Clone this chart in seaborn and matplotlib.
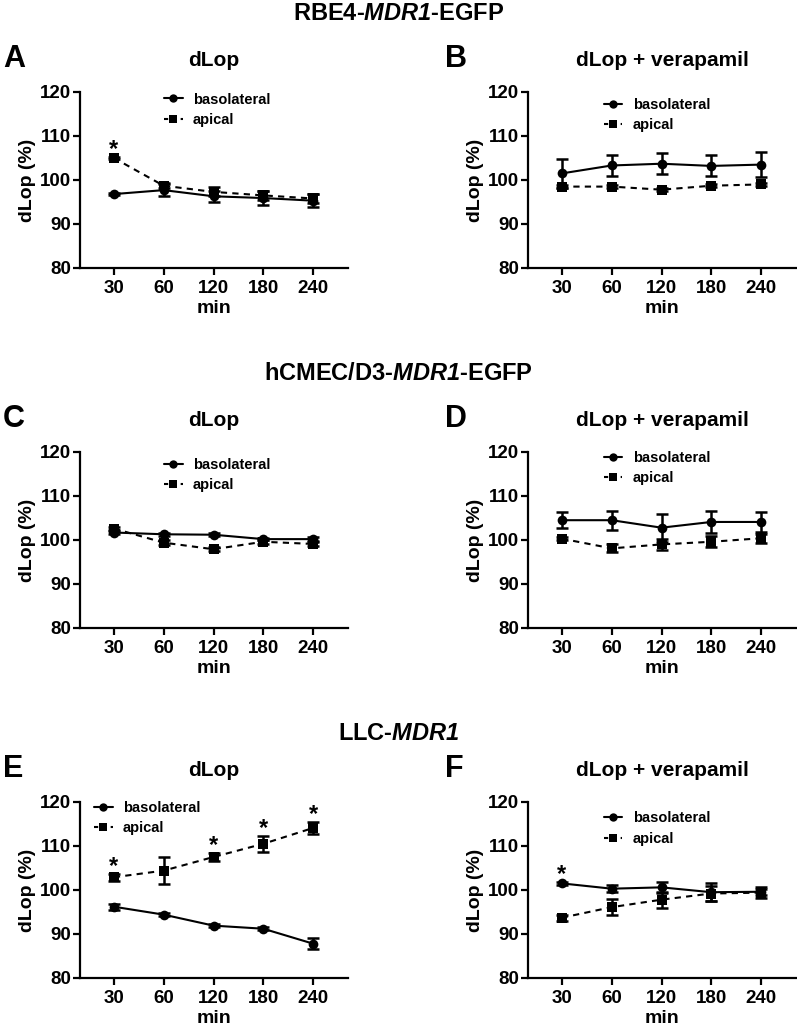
import matplotlib
matplotlib.use("Agg")
import matplotlib.pyplot as plt
from matplotlib.lines import Line2D
import seaborn as sns

sns.set_theme(style="ticks")
plt.rcParams['font.family'] = ['Liberation Sans', 'DejaVu Sans']
plt.rcParams['font.weight'] = 'bold'
plt.rcParams['text.color'] = 'black'
plt.rcParams['axes.labelcolor'] = 'black'
plt.rcParams['xtick.color'] = 'black'
plt.rcParams['ytick.color'] = 'black'
plt.rcParams['mathtext.fontset'] = 'custom'
plt.rcParams['mathtext.it'] = 'Liberation Sans:italic:bold'
plt.rcParams['mathtext.rm'] = 'Liberation Sans:italic:bold'

times = ["30", "60", "120", "180", "240"]

# panel A: RBE4-MDR1-EGFP, dLop
a_baso = [96.8, 97.7, 96.3, 95.9, 95.3]
a_baso_err = [0.3, 1.3, 1.3, 1.5, 1.5]
a_api = [105.0, 98.7, 97.3, 96.5, 95.8]
a_api_err = [0.3, 0.6, 1.0, 1.0, 1.0]

# panel B: RBE4-MDR1-EGFP, dLop + verapamil
b_baso = [101.5, 103.3, 103.7, 103.2, 103.5]
b_baso_err = [3.3, 2.3, 2.4, 2.4, 2.8]
b_api = [98.5, 98.5, 97.8, 98.7, 99.0]
b_api_err = [0.3, 0.3, 0.3, 0.3, 0.3]

# panel C: hCMEC/D3-MDR1-EGFP, dLop
c_baso = [101.7, 101.3, 101.2, 100.2, 100.2]
c_baso_err = [0.4, 0.3, 0.3, 0.3, 0.4]
c_api = [102.6, 99.4, 97.9, 99.6, 99.1]
c_api_err = [0.4, 0.5, 0.5, 0.4, 0.4]

# panel D: hCMEC/D3-MDR1-EGFP, dLop + verapamil
d_baso = [104.5, 104.5, 102.8, 104.1, 104.1]
d_baso_err = [1.8, 2.2, 3.2, 2.4, 2.3]
d_api = [100.3, 98.1, 99.0, 99.6, 100.4]
d_api_err = [0.3, 0.9, 1.2, 1.2, 1.0]

# panel E: LLC-MDR1, dLop
e_baso = [96.2, 94.4, 91.9, 91.2, 87.8]
e_baso_err = [0.7, 0.3, 0.3, 0.4, 1.2]
e_api = [102.9, 104.4, 107.5, 110.5, 114.1]
e_api_err = [0.8, 3.0, 1.0, 1.8, 1.4]

# panel F: LLC-MDR1, dLop + verapamil
f_baso = [101.5, 100.3, 100.6, 99.5, 99.6]
f_baso_err = [0.3, 0.8, 1.2, 2.0, 0.7]
f_api = [93.7, 96.1, 97.8, 99.2, 99.4]
f_api_err = [0.7, 1.8, 1.8, 1.8, 1.3]

stars = {"A": ([0], "api"), "E": ([0, 2, 3, 4], "api"), "F": ([0], "baso")}

W, H = 797, 1026
fig = plt.figure(figsize=(W / 100, H / 100), dpi=100)


def px_axes(left, top, width, height):
    return fig.add_axes([left / W, 1 - (top + height) / H, width / W, height / H])


panels = [
    ("A", "dLop", 80, 92, a_baso, a_baso_err, a_api, a_api_err, (0.29, 1.03)),
    ("B", "dLop + verapamil", 528, 92, b_baso, b_baso_err, b_api, b_api_err, (0.26, 1.0)),
    ("C", "dLop", 80, 452, c_baso, c_baso_err, c_api, c_api_err, (0.29, 1.0)),
    ("D", "dLop + verapamil", 528, 452, d_baso, d_baso_err, d_api, d_api_err, (0.26, 1.04)),
    ("E", "dLop", 80, 802, e_baso, e_baso_err, e_api, e_api_err, (0.03, 1.04)),
    ("F", "dLop + verapamil", 528, 802, f_baso, f_baso_err, f_api, f_api_err, (0.26, 0.98)),
]

for letter, title, left, top, baso, baso_err, api, api_err, leg_pos in panels:
    ax = px_axes(left, top, 268, 176)
    sns.lineplot(x=times, y=baso, ax=ax, color="black", lw=1.5, marker="o",
                 markersize=7, markeredgewidth=0, sort=False)
    sns.lineplot(x=times, y=api, ax=ax, color="black", lw=1.5, ls=(0, (3, 2.5)),
                 marker="s", markersize=7, markeredgewidth=0, sort=False)
    ax.errorbar(times, baso, yerr=baso_err, fmt="none", ecolor="black",
                elinewidth=1.8, capsize=4, capthick=1.8)
    ax.errorbar(times, api, yerr=api_err, fmt="none", ecolor="black",
                elinewidth=1.8, capsize=4, capthick=1.8)

    if letter in stars:
        idx, which = stars[letter]
        vals, errs = (api, api_err) if which == "api" else (baso, baso_err)
        for i in idx:
            ax.text(i, vals[i] + errs[i] - 1.0, "*", ha="center", va="bottom",
                    fontsize=17, fontweight="bold")

    ax.set_ylim(80, 120)
    ax.set_yticks([80, 90, 100, 110, 120])
    ax.set_xlim(-0.68, 4.7)
    sns.despine(ax=ax)
    for s in ["left", "bottom"]:
        ax.spines[s].set_linewidth(1.6)
        ax.spines[s].set_color("black")
    ax.tick_params(axis="both", length=5, width=1.6, labelsize=13.5, color="black")
    ax.tick_params(axis="y", pad=1.5)
    for lab in ax.get_xticklabels() + ax.get_yticklabels():
        lab.set_fontweight("bold")
    ax.set_ylabel("dLop (%)", fontsize=14, fontweight="bold", labelpad=3)
    ax.set_xlabel("min", fontsize=14, fontweight="bold", labelpad=2)

    ax.text(0.5, 1.0 + 32 / 176, title, transform=ax.transAxes, ha="center",
            va="center", fontsize=15, fontweight="bold")
    lx = (3 if left < 400 else 445) / W
    ly = 1 - (top - 33) / H
    fig.text(lx, ly, letter, ha="left", va="center", fontsize=22, fontweight="bold")

    handles = [
        Line2D([], [], color="black", lw=1.5, marker="o", markersize=6, markeredgewidth=0),
        Line2D([], [], color="black", lw=1.5, ls=(0, (2, 2)), marker="s", markersize=6,
               markeredgewidth=0),
    ]
    ax.legend(handles, ["basolateral", "apical"], loc="upper left", bbox_to_anchor=leg_pos,
              frameon=False, handlelength=1.3, handletextpad=0.7,
              labelspacing=0.45, borderaxespad=0, prop={"weight": "bold", "size": 10.5})

fig.text(0.5, 1 - 14 / H, r"RBE4-$\it{MDR1}$-EGFP", ha="center", va="center",
         fontsize=17, fontweight="bold")
fig.text(0.5, 1 - 373 / H, r"hCMEC/D3-$\it{MDR1}$-EGFP", ha="center", va="center",
         fontsize=17, fontweight="bold")
fig.text(0.5, 1 - 733 / H, r"LLC-$\it{MDR1}$", ha="center", va="center",
         fontsize=17, fontweight="bold")

fig.savefig("out.png", dpi=100)
